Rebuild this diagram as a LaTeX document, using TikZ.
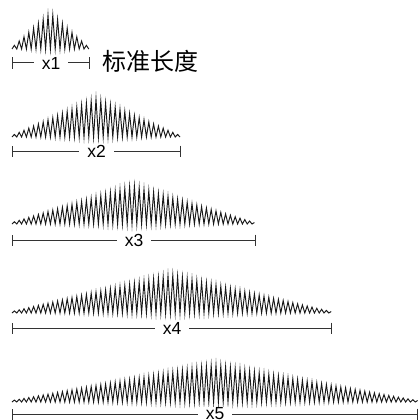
\documentclass[tikz,border=0pt]{standalone}
\usepackage{fontspec}
\setmainfont{Liberation Sans}
\newfontfamily\cjk{Noto Sans CJK SC}
\usetikzlibrary{arrows.meta}
\tikzset{
	zz/.style={line width=0.95pt, draw=black!90, line join=miter, miter limit=20},
	mbar/.style={{Bar[width=11pt]}-{Bar[width=11pt]}, line width=1pt,
		draw=black!80},
	mlbl/.style={fill=white, inner xsep=8pt, inner ysep=1pt,
		font=\fontsize{17.5}{17.5}\selectfont},
}
% zigzag wave: left x, right x, base y, peak height
\newcommand{\zigwave}[4]{%
	\pgfmathtruncatemacro\nz{(#2-#1)/2.4+1}%
	\pgfmathsetmacro\rz{#1+(\nz-1)*2.4}%
	\draw[zz] plot[domain=#1:\rz, samples=\nz]
		(\x, {#3-(1.5+(#4-1.5)*(1-abs(2*\x-#1-\rz)/(\rz-#1)))*mod(round((\x-#1)/2.4),2)});%
}

\begin{document}
\begin{tikzpicture}[x=1pt, y=-1pt]
			\useasboundingbox (0,0) rectangle (419,420);
			\clip (0,0) rectangle (419,420);

			% Row 1 (standard length)
			\zigwave{12}{90}{49}{36}
			\coordinate (l1) at (12,63);
			\coordinate (r1) at (90,63);
			\draw[mbar] (l1) -- node[mlbl] (lab1) {x1} (r1);
			\node[anchor=west, inner sep=0pt, font=\cjk\fontsize{24}{24}\selectfont]
				at (102,61) (std) {标准长度};

			% Row 2
			\zigwave{12}{181}{137}{38}
			\coordinate (l2) at (12,151);
			\coordinate (r2) at (181,151);
			\draw[mbar] (l2) -- node[mlbl] (lab2) {x2} (r2);

			% Row 3
			\zigwave{12}{256}{224}{38}
			\coordinate (l3) at (12,240);
			\coordinate (r3) at (256,240);
			\draw[mbar] (l3) -- node[mlbl] (lab3) {x3} (r3);

			% Row 4
			\zigwave{12}{332}{313}{38}
			\coordinate (l4) at (12,328);
			\coordinate (r4) at (332,328);
			\draw[mbar] (l4) -- node[mlbl] (lab4) {x4} (r4);

			% Row 5 (bottom)
			\zigwave{12}{418}{402}{37}
			\coordinate (l5) at (12,414);
			\coordinate (r5) at (418,414);
			\draw[mbar] (l5) -- node[mlbl] (lab5) {x5} (r5);
		\end{tikzpicture}
\end{document}
